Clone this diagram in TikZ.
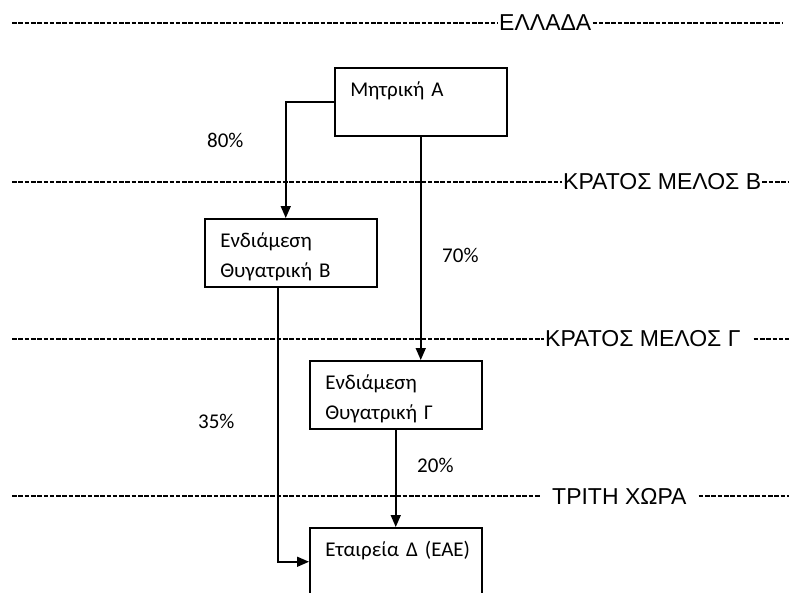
\documentclass[tikz,border=0pt]{standalone}
\usepackage{fontspec}
\usepackage{tikz}
\usetikzlibrary{arrows.meta,positioning}
\newfontfamily\calibrifont{Carlito}
\newfontfamily\arialfont{Liberation Sans}

\begin{document}
\begin{tikzpicture}[x=1pt, y=-1pt,
    entity/.style={rectangle, draw, line width=1.5pt, anchor=north west, minimum width=172pt, minimum height=68pt, text width=141pt, inner xsep=15.5pt, align=left, text height=20pt, text depth=30pt, font=\fontsize{21}{29.5}\selectfont\calibrifont},
    share/.style={anchor=base west, inner sep=0pt, font=\fontsize{21}{24}\selectfont\calibrifont},
    border/.style={anchor=west, inner xsep=1pt, inner ysep=0pt, font=\fontsize{23}{27}\selectfont\arialfont},
    sepline/.style={line width=1.9pt, dash pattern=on 4.6pt off 1.7pt},
    link/.style={-{Triangle[length=12pt, width=10pt]}, line width=1.6pt}
]
    \useasboundingbox (0,0) rectangle (789,592);
    \node[entity] (A) at (334,67) {Μητρική Α};
    \node[entity] (B) at (204,218) {Ενδιάμεση\\Θυγατρική Β};
    \node[entity] (G) at (309,360) {Ενδιάμεση\\Θυγατρική Γ};
    \node[entity] (D) at (309,527) {\mbox{Εταιρεία Δ (ΕΑΕ)}};
    \node[share] (p80) at (207,147) {80\%};
    \node[share] (p70) at (442,262) {70\%};
    \node[share] (p35) at (198,428) {35\%};
    \node[share] (p20) at (417,472) {20\%};
    \node[border] (gr) at (498,23) {ΕΛΛΑΔΑ};
    \node[border] (msB) at (562,182) {ΚΡΑΤΟΣ ΜΕΛΟΣ Β};
    \node[border] (msG) at (544,339) {ΚΡΑΤΟΣ ΜΕΛΟΣ Γ\kern12pt};
    \node[border] (third) at (540,496) {\kern11pt ΤΡΙΤΗ ΧΩΡΑ\kern11pt};
    \coordinate (l1) at (12,23);
    \coordinate (r1) at (783,23);
    \coordinate (l2) at (12,182);
    \coordinate (r2) at (789,182);
    \coordinate (l3) at (12,339);
    \coordinate (r3) at (789,339);
    \coordinate (l4) at (12,496);
    \coordinate (r4) at (789,496);
    \draw[sepline] (l1) -- (gr.west);
    \draw[sepline] (gr.east) -- (r1);
    \draw[sepline] (l2) -- (msB.west);
    \draw[sepline] (msB.east) -- (r2);
    \draw[sepline] (l3) -- (msG.west);
    \draw[sepline] (msG.east) -- (r3);
    \draw[sepline] (l4) -- (third.west);
    \draw[sepline] (third.east) -- (r4);
    \draw[link] (A.west) -| ([xshift=-5pt]B.north);
    \draw[link] (A.south) -- (A.south |- G.north);
    \draw[link] ([xshift=-13pt]B.south) |- (D.west);
    \draw[link] (G.south) -- (D.north);
\end{tikzpicture}
\end{document}
